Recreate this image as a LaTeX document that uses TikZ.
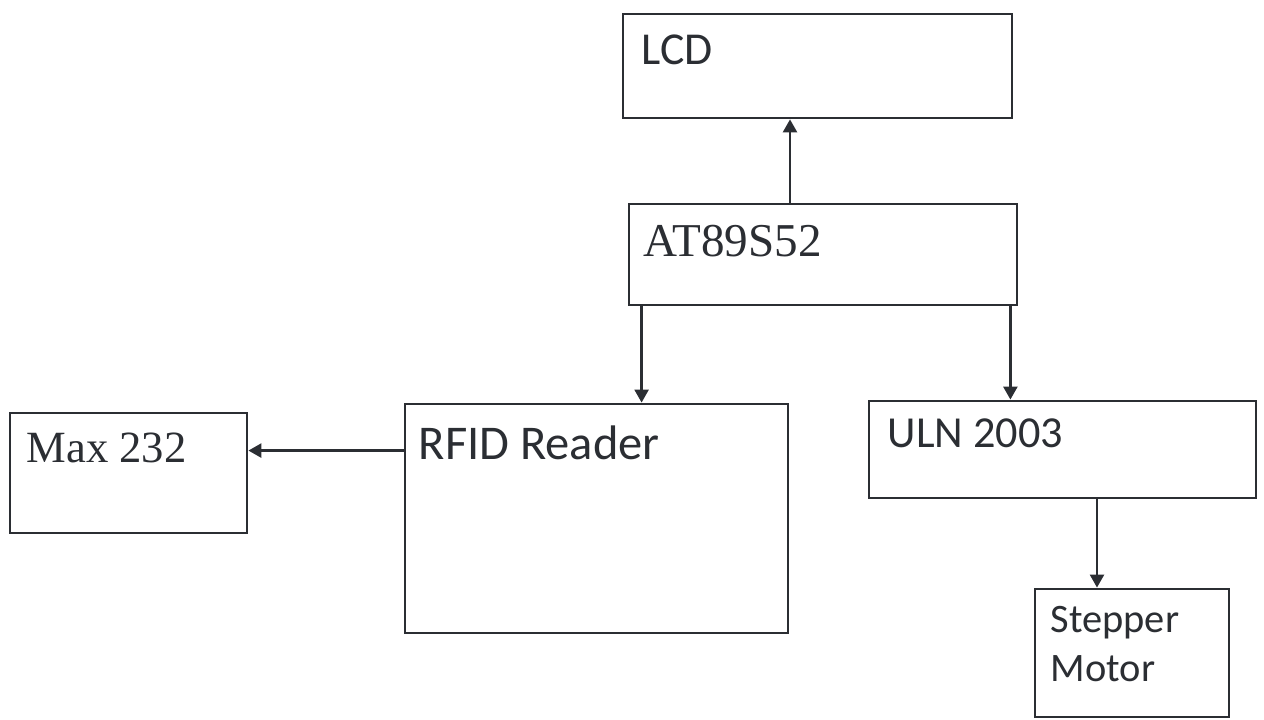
\documentclass[tikz,border=0pt]{standalone}
\usepackage{fontspec}
\setmainfont{Liberation Serif}
\newfontfamily\calib{Carlito}
\usetikzlibrary{arrows.meta}

\definecolor{ink}{rgb}{0.17,0.18,0.20}
\tikzset{
  box/.style={draw=ink,line width=0.8pt,rectangle,inner sep=0pt},
  lbl/.style={anchor=base west,inner sep=0pt,text=ink},
  arr/.style={draw=ink,line width=0.7pt,-{Triangle[length=1.3mm,width=1.4mm]}}
}

\begin{document}
\begin{tikzpicture}
\useasboundingbox[fill=white] (0,0) rectangle (12.64,7.2);

\node[box,minimum width=3.89cm,minimum height=1.04cm] (lcd) at (8.175,6.54) {};
\node[box,minimum width=3.88cm,minimum height=1.01cm] (at) at (8.23,4.655) {};
\node[box,minimum width=3.83cm,minimum height=2.29cm] (rfid) at (5.965,2.015) {};
\node[box,minimum width=2.37cm,minimum height=1.20cm] (max) at (1.285,2.47) {};
\node[box,minimum width=3.87cm,minimum height=0.97cm] (uln) at (10.625,2.705) {};
\node[box,minimum width=1.94cm,minimum height=1.28cm] (step) at (11.32,0.67) {};

\node[lbl,font=\calib\fontsize{13}{15}\selectfont] (lcdtxt) at (6.41,6.55) {LCD};
\node[lbl,font=\fontsize{13.4}{15}\selectfont] (attxt) at (6.43,4.63) {AT89S52};
\node[lbl,font=\calib\fontsize{13.8}{16}\selectfont] (rfidtxt) at (4.18,2.60) {RFID Reader};
\node[lbl,font=\fontsize{12.7}{15}\selectfont] (maxtxt) at (0.26,2.57) {Max 232};
\node[lbl,font=\calib\fontsize{12.6}{15}\selectfont] (ulntxt) at (8.87,2.72) {ULN 2003};
\node[lbl,font=\calib\fontsize{11.5}{14.2}\selectfont,align=left] (steptxt) at (10.50,0.38) {Stepper\\Motor};

\draw[arr] ([xshift=-3.3mm]at.north) -- ([xshift=-3.3mm]at.north |- lcd.south);
\draw[arr] ([xshift=1.4mm]at.south west) -- ([xshift=1.4mm]at.south west |- rfid.north);
\draw[arr] ([xshift=-0.8mm]at.south east) -- ([xshift=-0.8mm]at.south east |- uln.north);
\draw[arr] ([yshift=-4.8mm]rfid.north west) -- ([yshift=-4.8mm]rfid.north west -| max.east);
\draw[arr] ([xshift=-3.5mm]step.north |- uln.south) -- ([xshift=-3.5mm]step.north);
\end{tikzpicture}
\end{document}
